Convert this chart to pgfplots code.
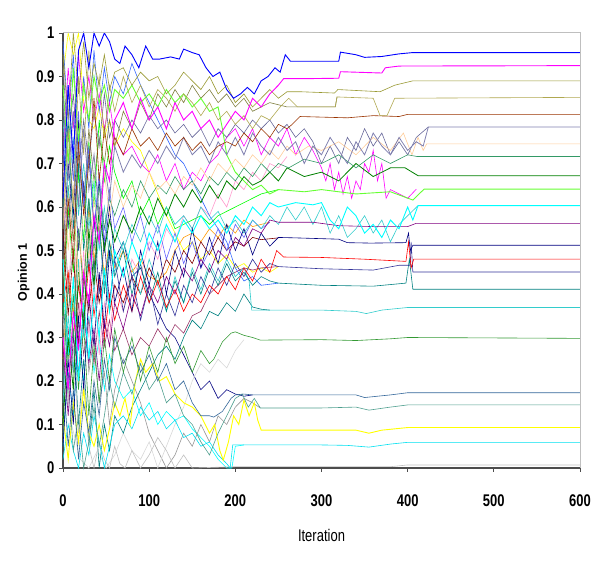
\documentclass[border=0pt]{standalone}
\usepackage{pgfplots}
\pgfplotsset{compat=1.18}
\usepackage{fontspec}
\setmainfont{Liberation Sans}
\definecolor{cA}{HTML}{0000FF}
\definecolor{cB}{HTML}{FF00FF}
\definecolor{cC}{HTML}{999933}
\definecolor{cD}{HTML}{B0A850}
\definecolor{cE}{HTML}{993300}
\definecolor{cF}{HTML}{8080B0}
\definecolor{cG}{HTML}{FFCC99}
\definecolor{cH}{HTML}{339966}
\definecolor{cI}{HTML}{008000}
\definecolor{cJ}{HTML}{66FF33}
\definecolor{cK}{HTML}{00FFFF}
\definecolor{cL}{HTML}{800080}
\definecolor{cM}{HTML}{000080}
\definecolor{cN}{HTML}{FF0000}
\definecolor{cO}{HTML}{333399}
\definecolor{cP}{HTML}{008080}
\definecolor{cQ}{HTML}{33CCCC}
\definecolor{cR}{HTML}{339933}
\definecolor{cS}{HTML}{336699}
\definecolor{cT}{HTML}{4F9F8F}
\definecolor{cU}{HTML}{FFFF00}
\definecolor{cV}{HTML}{00E0F0}
\definecolor{cW}{HTML}{C0C0C0}
\definecolor{eB}{HTML}{00FF00}
\definecolor{eC}{HTML}{FF9900}
\definecolor{eF}{HTML}{993366}
\definecolor{eG}{HTML}{FF99CC}
\definecolor{eI}{HTML}{969696}
\definecolor{eJ}{HTML}{D8D8D8}
\definecolor{eK}{HTML}{800000}
\definecolor{eL}{HTML}{666699}
\definecolor{eN}{HTML}{3366FF}
\definecolor{eO}{HTML}{808040}
\definecolor{eP}{HTML}{6666FF}
\begin{document}
\begin{tikzpicture}
\begin{axis}[
  scale only axis, width=517pt, height=435pt,
  xmin=0, xmax=600, ymin=0, ymax=1,
  clip=false,
  xtick={0,100,200,300,400,500,600},
  ytick={0,0.1,0.2,0.3,0.4,0.5,0.6,0.7,0.8,0.9,1},
  axis x line*=bottom, axis y line*=left,
  axis line style={draw=black!70, line width=1.2pt},
  tick style={draw=black!70, line width=0.8pt},
  tick align=outside, major tick length=4pt,
  /pgf/number format/assume math mode=true,
  ticklabel style={font=\fontsize{13}{15}\selectfont\bfseries},
  xticklabel={\scalebox{1}[1.3]{\pgfmathprintnumber{\tick}}},
  yticklabel={\scalebox{1}[1.3]{\pgfmathprintnumber{\tick}}},
  xticklabel style={yshift=-19pt},
  yticklabel style={xshift=-1pt},
  xlabel={\fontsize{13}{15}\selectfont\scalebox{1}[1.3]{Iteration}},
  ylabel={\fontsize{12.5}{14}\selectfont\bfseries Opinion 1},
  xlabel style={yshift=-16pt},
  ylabel style={at={(ticklabel cs:0.45)}, yshift=0pt},
  every axis plot/.append style={line width=0.6pt, mark=none},
]
% extra series (merge early)
\addplot[cU] coordinates {(0,.9)(6,1)(12,.95)(18,1)(24,.84)(30,.80)(36,.78)(42,.83)(48,.76)(54,.80)(60,.74)(70,.78)(80,.75)(90,.73)(100,.68)(110,.63)(120,.58)(130,.54)(140,.50)(150,.52)(160,.48)(170,.50)(180,.47)(190,.49)(200,.46)(210,.47)(220,.45)(230,.46)(240,.45)(250,.463)};
\addplot[eB] coordinates {(0,.35)(6,.60)(12,.45)(18,.68)(24,.52)(30,.75)(36,.60)(42,.80)(48,.66)(54,.74)(60,.68)(70,.62)(80,.66)(90,.58)(100,.62)(110,.56)(120,.60)(130,.55)(140,.56)(150,.57)(160,.58)(170,.56)(180,.58)(190,.59)(200,.60)(210,.61)(220,.62)(230,.63)(240,.635)(250,.64)};
\addplot[eC] coordinates {(0,.25)(6,.45)(12,.35)(18,.55)(24,.42)(30,.60)(36,.48)(42,.56)(48,.44)(54,.52)(60,.46)(70,.50)(80,.45)(90,.48)(100,.44)(110,.43)(120,.45)(130,.50)(140,.53)(150,.54)(160,.52)(170,.55)(180,.53)(190,.56)(200,.54)(210,.57)(220,.555)(230,.56)(240,.565)};
\addplot[cM] coordinates {(0,.50)(6,.70)(12,.58)(18,.80)(24,.62)(30,.72)(36,.55)(42,.66)(48,.50)(54,.60)(60,.48)(70,.52)(80,.44)(90,.46)(100,.40)(110,.36)(120,.32)(130,.30)(140,.26)(150,.22)(160,.18)(170,.20)(180,.16)(190,.18)(200,.17)(210,.165)(220,.168)};
\addplot[cK] coordinates {(0,.05)(6,.22)(12,.12)(18,.30)(24,.20)(30,.35)(36,.22)(42,.30)(48,.18)(54,.26)(60,.20)(70,.16)(80,.18)(90,.12)(100,.15)(110,.10)(120,.13)(130,.11)(140,.12)(150,.09)(160,.07)(170,.05)(180,.02)(190,0)(196,0)(200,.05)(210,.053)};
\addplot[eF] coordinates {(0,.18)(6,.32)(12,.22)(18,.38)(24,.26)(30,.34)(36,.24)(42,.36)(48,.28)(54,.34)(60,.27)(70,.32)(80,.26)(90,.30)(100,.28)(110,.32)(120,.29)(130,.33)(140,.31)(150,.35)(160,.36)(170,.40)(180,.42)(190,.44)(200,.45)(210,.46)(220,.455)(230,.46)(250,.463)};
\addplot[eG] coordinates {(0,.66)(6,.40)(12,.58)(18,.34)(24,.50)(30,.30)(36,.44)(42,.26)(48,.38)(54,.30)(60,.42)(70,.36)(80,.48)(90,.44)(100,.52)(110,.48)(120,.55)(130,.52)(140,.58)(150,.55)(160,.60)(170,.58)(180,.63)(190,.60)(200,.66)(210,.64)(220,.68)(230,.66)(240,.70)(250,.69)(260,.716)};
\addplot[eI] coordinates {(0,.60)(6,.42)(12,.50)(18,.30)(24,.40)(30,.22)(36,.30)(42,.15)(48,.22)(54,.10)(60,.18)(70,.25)(80,.20)(90,.15)(100,.08)(110,.04)(120,0)(130,.03)(140,.08)(150,.05)(160,.10)(170,.06)(180,.12)(190,.10)(200,.14)(210,.16)(220,.15)(229,.138)};
\addplot[eJ] coordinates {(0,.30)(10,.10)(20,.02)(30,0)(40,.04)(50,0)(60,.03)(70,.08)(80,.04)(90,.02)(100,.06)(110,0)(120,.05)(130,.10)(140,.14)(150,.20)(160,.24)(170,.22)(180,.25)(190,.23)(200,.27)(210,.295)};
\addplot[eK] coordinates {(0,.55)(6,.35)(12,.50)(18,.28)(24,.44)(30,.36)(36,.48)(42,.38)(48,.45)(54,.36)(60,.42)(70,.38)(80,.44)(90,.40)(100,.46)(110,.42)(120,.48)(130,.45)(140,.50)(150,.47)(160,.52)(170,.49)(180,.53)(190,.50)(200,.52)(210,.51)(220,.53)(230,.525)(250,.529)};
\addplot[eN] coordinates {(0,.98)(6,.80)(12,.95)(18,.72)(24,.90)(30,.78)(36,.96)(42,.82)(48,.92)(54,.84)(60,.90)(70,.86)(80,.93)(90,.88)(100,.84)(110,.80)(120,.76)(130,.72)(140,.70)(150,.66)(160,.62)(170,.58)(180,.55)(190,.52)(200,.46)(210,.43)(220,.44)(230,.42)(250,.425)};
\addplot[eO] coordinates {(0,.45)(6,.65)(12,.52)(18,.72)(24,.60)(30,.78)(36,.66)(42,.76)(48,.70)(54,.80)(60,.74)(70,.82)(80,.78)(90,.84)(100,.80)(110,.86)(120,.83)(130,.87)(140,.84)(150,.88)(160,.85)(170,.87)(180,.84)(190,.86)(200,.83)(210,.85)(220,.82)(240,.84)(260,.83)(300,.83)(316,.83)(318,.853)};
\addplot[eP] coordinates {(0,.70)(6,.88)(12,.66)(18,.82)(24,.60)(30,.74)(36,.55)(42,.68)(48,.52)(54,.64)(60,.55)(70,.60)(80,.52)(90,.58)(100,.50)(110,.56)(120,.48)(130,.54)(140,.47)(150,.52)(160,.46)(170,.50)(180,.55)(190,.50)(200,.56)(210,.53)(220,.57)(230,.55)(240,.565)};
\addplot[cP] coordinates {(0,.40)(6,.20)(12,.32)(18,.10)(24,.25)(30,.05)(36,.18)(42,0)(48,.10)(54,.04)(60,.12)(70,.08)(80,.14)(90,.18)(100,.22)(110,.26)(120,.28)(130,.25)(140,.30)(150,.34)(160,.32)(170,.36)(180,.35)(190,.38)(200,.36)(210,.40)(220,.37)(230,.365)(240,.363)};
% extra series (wobbly until ~410)
\addplot[cB] coordinates {(0,.72)(6,.92)(12,.78)(18,.95)(24,.82)(30,.90)(36,.80)(42,.86)(48,.78)(54,.84)(60,.76)(70,.72)(80,.74)(90,.70)(100,.68)(110,.72)(120,.66)(130,.70)(140,.64)(150,.68)(160,.66)(170,.70)(180,.72)(190,.76)(200,.78)(210,.74)(220,.78)(230,.72)(240,.76)(250,.74)(260,.78)(270,.72)(280,.76)(290,.73)(300,.69)(305,.66)(310,.70)(315,.64)(320,.68)(325,.63)(330,.67)(335,.62)(340,.66)(345,.64)(350,.70)(355,.68)(360,.73)(365,.66)(370,.70)(375,.62)(380,.64)(390,.63)(400,.62)(410,.641)};
\addplot[eL] coordinates {(0,.92)(6,.75)(12,.86)(18,.68)(24,.80)(30,.70)(36,.82)(42,.74)(48,.86)(54,.76)(60,.80)(70,.76)(80,.80)(90,.77)(100,.81)(110,.78)(120,.80)(130,.77)(140,.79)(150,.76)(160,.78)(170,.74)(180,.78)(190,.76)(200,.79)(210,.77)(220,.80)(230,.78)(240,.80)(250,.77)(260,.79)(270,.76)(280,.78)(290,.75)(300,.70)(310,.74)(320,.70)(330,.76)(340,.73)(350,.78)(360,.74)(370,.77)(380,.72)(390,.75)(400,.72)(410,.76)(424,.784)};
\addplot[cQ] coordinates {(0,.80)(6,.62)(12,.76)(18,.58)(24,.70)(30,.55)(36,.66)(42,.50)(48,.60)(54,.48)(60,.55)(70,.50)(80,.56)(90,.52)(100,.58)(110,.54)(120,.60)(130,.56)(140,.58)(150,.55)(160,.60)(170,.57)(180,.59)(190,.55)(200,.57)(210,.54)(220,.57)(230,.55)(240,.58)(250,.56)(260,.60)(270,.57)(280,.60)(290,.56)(300,.60)(310,.54)(320,.58)(330,.53)(340,.55)(350,.58)(360,.54)(370,.57)(380,.52)(390,.56)(400,.58)(412,.603)};
% final bands
\addplot[cW] coordinates {(0,.35)(6,.15)(12,.28)(18,.08)(24,.20)(30,.05)(36,0)(42,.06)(48,.02)(54,0)(60,.05)(66,.01)(72,0)(80,.04)(90,0)(100,.03)(110,.07)(120,.04)(130,0)(140,.03)(150,0)(200,.003)(300,.003)(380,.003)(400,.007)(600,.007)};
\addplot[cV] coordinates {(0,.02)(6,.10)(12,.04)(18,0)(24,.08)(30,.03)(36,.12)(42,.06)(48,0)(54,.05)(60,.10)(70,.12)(80,.09)(90,.14)(100,.11)(110,.13)(120,.09)(130,.11)(140,.07)(150,.08)(160,.05)(170,.06)(180,.03)(190,.01)(194,0)(197,.053)(300,.053)(330,.052)(355,.048)(380,.055)(400,.059)(600,.059)};
\addplot[cU, line width=0.9pt] coordinates {(0,.12)(6,.02)(12,.15)(18,.06)(24,.18)(30,.08)(36,.05)(42,.10)(48,.04)(54,.09)(60,.15)(66,.12)(72,.16)(78,.10)(84,.20)(90,.25)(96,.22)(104,.24)(112,.20)(120,.21)(130,.17)(140,.15)(150,.14)(160,.12)(170,.08)(176,.10)(182,.04)(186,.018)(192,.06)(198,.12)(204,.10)(210,.156)(216,.12)(222,.15)(226,.11)(230,.087)(340,.087)(355,.08)(370,.087)(400,.093)(600,.093)};
\addplot[cT] coordinates {(0,.08)(6,.20)(12,.04)(18,.12)(24,0)(30,.06)(36,.14)(42,.05)(48,.12)(54,.20)(60,.14)(70,.22)(80,.17)(90,.24)(100,.18)(110,.21)(120,.15)(130,.17)(140,.12)(150,.10)(160,.06)(170,.03)(180,.08)(190,.12)(200,.16)(208,.17)(215,.14)(222,.16)(229,.138)(300,.138)(340,.14)(355,.133)(380,.14)(400,.145)(600,.145)};
\addplot[cS] coordinates {(0,.22)(6,.05)(12,.18)(18,.02)(24,.15)(30,.08)(36,.20)(42,.12)(48,.25)(54,.18)(60,.30)(70,.24)(80,.28)(90,.22)(100,.26)(110,.20)(120,.24)(130,.18)(140,.20)(150,.15)(160,.12)(170,.12)(175,.117)(185,.13)(195,.16)(200,.168)(210,.17)(220,.168)(300,.168)(340,.168)(350,.162)(380,.168)(400,.173)(600,.173)};
\addplot[cR] coordinates {(0,.45)(6,.25)(12,.40)(18,.18)(24,.33)(30,.12)(36,.28)(42,.15)(48,.30)(54,.20)(60,.32)(70,.22)(80,.30)(90,.20)(100,.28)(110,.22)(120,.30)(130,.24)(140,.28)(150,.22)(160,.27)(170,.24)(175,.25)(185,.29)(195,.31)(200,.313)(210,.305)(220,.30)(229,.294)(300,.295)(340,.293)(380,.297)(400,.30)(600,.298)};
\addplot[cQ] coordinates {(0,.15)(6,.35)(12,.22)(18,.48)(24,.30)(30,.52)(36,.40)(42,.55)(48,.42)(54,.50)(60,.45)(70,.52)(80,.46)(90,.40)(100,.48)(110,.42)(120,.36)(130,.44)(140,.38)(150,.46)(160,.41)(170,.47)(180,.43)(190,.48)(200,.44)(210,.46)(216,.43)(219,.363)(300,.363)(340,.36)(352,.355)(370,.363)(400,.369)(600,.369)};
\addplot[cP] coordinates {(0,.60)(6,.80)(12,.55)(18,.70)(24,.50)(30,.62)(36,.45)(42,.58)(48,.40)(54,.52)(60,.44)(70,.50)(80,.40)(90,.47)(100,.38)(110,.45)(120,.36)(130,.43)(140,.38)(150,.45)(160,.40)(170,.46)(180,.42)(190,.47)(200,.43)(210,.45)(220,.42)(230,.44)(240,.43)(250,.425)(300,.42)(360,.418)(398,.425)(402,.48)(406,.411)(600,.411)};
\addplot[cO] coordinates {(0,.75)(6,.55)(12,.72)(18,.50)(24,.66)(30,.45)(36,.58)(42,.40)(48,.52)(54,.38)(60,.48)(70,.36)(80,.44)(90,.34)(100,.42)(110,.33)(120,.40)(130,.35)(140,.42)(150,.38)(160,.44)(170,.40)(180,.46)(190,.42)(200,.47)(210,.44)(220,.48)(230,.45)(240,.47)(250,.463)(300,.458)(360,.455)(390,.466)(403,.466)(404,.52)(406,.4506)(600,.4506)};
\addplot[cN] coordinates {(0,.38)(6,.45)(12,.30)(18,.42)(24,.33)(30,.47)(36,.35)(42,.44)(48,.30)(54,.40)(60,.34)(70,.42)(80,.36)(90,.44)(100,.38)(110,.43)(120,.37)(130,.41)(140,.36)(150,.40)(160,.38)(170,.42)(180,.40)(190,.44)(200,.41)(210,.46)(220,.43)(230,.48)(240,.45)(248,.50)(256,.485)(300,.484)(350,.48)(398,.475)(401,.52)(404,.46)(407,.48)(600,.48)};
\addplot[cM] coordinates {(0,.05)(6,.25)(12,.10)(18,.35)(24,.18)(30,.40)(36,.28)(42,.45)(48,.32)(54,.50)(60,.38)(70,.46)(80,.36)(90,.50)(100,.42)(110,.52)(120,.40)(130,.50)(140,.44)(150,.55)(160,.46)(170,.53)(180,.47)(190,.56)(200,.50)(210,.55)(220,.49)(230,.54)(240,.51)(250,.53)(270,.529)(320,.526)(330,.518)(357,.517)(398,.518)(401,.54)(403,.50)(406,.512)(600,.512)};
\addplot[cL] coordinates {(0,.28)(6,.12)(12,.30)(18,.22)(24,.36)(30,.24)(36,.32)(42,.20)(48,.34)(54,.28)(60,.38)(70,.32)(80,.40)(90,.35)(100,.42)(110,.38)(120,.44)(130,.40)(140,.46)(150,.43)(160,.48)(170,.45)(180,.50)(190,.48)(200,.53)(210,.51)(220,.55)(230,.54)(240,.57)(250,.565)(290,.565)(320,.557)(360,.555)(400,.555)(410,.5625)(600,.5625)};
\addplot[cK, line width=0.9pt] coordinates {(0,.48)(6,.26)(12,.44)(18,.20)(24,.38)(30,.25)(36,.40)(42,.30)(48,.46)(54,.36)(60,.50)(70,.44)(80,.52)(90,.47)(100,.54)(110,.50)(120,.56)(130,.52)(140,.57)(150,.54)(160,.58)(170,.55)(180,.57)(190,.54)(200,.58)(210,.56)(220,.60)(230,.58)(240,.61)(250,.60)(270,.61)(290,.605)(300,.61)(310,.57)(320,.55)(330,.60)(340,.58)(350,.54)(360,.56)(370,.53)(380,.57)(390,.55)(400,.60)(406,.57)(412,.603)(600,.603)};
\addplot[cJ, line width=0.9pt] coordinates {(0,.88)(6,.70)(12,.92)(18,.75)(24,.88)(30,.80)(36,.90)(42,.84)(48,.88)(54,.82)(60,.87)(70,.85)(80,.88)(90,.84)(100,.86)(110,.83)(120,.87)(130,.84)(140,.86)(150,.83)(160,.85)(170,.82)(180,.83)(185,.78)(190,.72)(200,.68)(210,.66)(220,.64)(230,.65)(240,.63)(250,.64)(280,.635)(300,.64)(340,.63)(380,.635)(406,.616)(419,.641)(600,.641)};
\addplot[cI, line width=0.8pt] coordinates {(0,.10)(6,.30)(12,.18)(18,.45)(24,.32)(30,.55)(36,.42)(42,.60)(48,.50)(54,.57)(60,.52)(70,.58)(80,.54)(90,.60)(100,.56)(110,.62)(120,.58)(130,.63)(140,.60)(150,.64)(160,.61)(170,.65)(180,.62)(190,.66)(200,.64)(210,.67)(220,.65)(230,.66)(240,.68)(250,.66)(260,.69)(280,.67)(300,.68)(320,.66)(340,.70)(360,.67)(380,.69)(397,.69)(412,.672)(600,.672)};
\addplot[cH] coordinates {(0,.20)(6,.42)(12,.30)(18,.55)(24,.40)(30,.62)(36,.50)(42,.65)(48,.55)(54,.62)(60,.58)(70,.64)(80,.60)(90,.66)(100,.62)(110,.65)(120,.63)(130,.67)(140,.64)(150,.66)(160,.63)(170,.67)(180,.65)(190,.68)(200,.66)(210,.69)(220,.67)(230,.70)(240,.68)(250,.70)(262,.69)(280,.71)(300,.70)(320,.72)(340,.69)(360,.72)(380,.70)(400,.72)(411,.716)(600,.716)};
\addplot[cG] coordinates {(0,.70)(6,.50)(12,.65)(18,.42)(24,.60)(30,.48)(36,.62)(42,.55)(48,.68)(54,.58)(60,.66)(70,.60)(80,.65)(90,.62)(100,.68)(110,.64)(120,.66)(130,.63)(140,.67)(150,.65)(160,.69)(170,.66)(180,.70)(190,.68)(200,.71)(210,.69)(220,.72)(230,.70)(240,.73)(250,.71)(260,.74)(270,.72)(285,.74)(300,.73)(320,.75)(340,.72)(360,.76)(380,.73)(395,.77)(405,.72)(412,.76)(418,.73)(422,.745)(600,.745)};
\addplot[cF, line width=0.8pt] coordinates {(0,.85)(6,.66)(12,.82)(18,.60)(24,.78)(30,.64)(36,.72)(42,.58)(48,.70)(54,.62)(60,.74)(70,.68)(80,.72)(90,.69)(100,.73)(110,.70)(120,.74)(130,.71)(140,.76)(150,.72)(160,.74)(170,.70)(180,.75)(190,.72)(200,.76)(210,.72)(220,.77)(230,.74)(240,.72)(250,.76)(260,.73)(270,.75)(280,.70)(290,.74)(300,.72)(310,.76)(320,.73)(330,.70)(340,.75)(350,.72)(360,.77)(370,.74)(380,.72)(390,.76)(400,.73)(410,.75)(418,.74)(424,.784)(600,.784)};
\addplot[cE] coordinates {(0,.40)(6,.62)(12,.48)(18,.75)(24,.58)(30,.70)(36,.85)(42,.66)(48,.78)(54,.70)(60,.76)(70,.72)(80,.78)(90,.74)(100,.76)(110,.73)(120,.77)(130,.74)(140,.76)(150,.73)(160,.75)(170,.72)(180,.74)(190,.75)(200,.74)(210,.77)(220,.75)(230,.78)(240,.76)(250,.79)(260,.78)(266,.79)(275,.808)(330,.805)(360,.81)(390,.808)(400,.813)(600,.813)};
\addplot[cD] coordinates {(0,.55)(6,.78)(12,.60)(18,.90)(24,.72)(30,.96)(36,.80)(42,.90)(48,.76)(54,.88)(60,.82)(70,.90)(80,.84)(90,.88)(100,.83)(110,.87)(120,.85)(130,.82)(140,.86)(150,.84)(160,.81)(170,.84)(180,.80)(190,.82)(200,.79)(210,.81)(220,.78)(230,.81)(240,.80)(252,.83)(262,.85)(272,.83)(300,.83)(316,.83)(318,.853)(360,.85)(368,.81)(376,.81)(385,.85)(600,.852)};
\addplot[cC] coordinates {(0,.95)(6,.80)(12,1)(18,.86)(24,.98)(30,.85)(36,.93)(42,.88)(48,.95)(54,.87)(60,.91)(70,.92)(80,.88)(90,.91)(100,.89)(110,.90)(120,.86)(130,.88)(140,.91)(150,.89)(160,.87)(170,.90)(180,.86)(190,.88)(200,.84)(210,.86)(220,.83)(230,.85)(240,.87)(250,.85)(260,.865)(275,.865)(315,.862)(319,.87)(368,.865)(385,.88)(406,.89)(600,.89)};
\addplot[cB, line width=0.9pt] coordinates {(0,.30)(6,.18)(12,.36)(18,.27)(24,.45)(30,.38)(36,.58)(42,.52)(48,.70)(54,.66)(60,.80)(70,.84)(80,.78)(90,.85)(100,.80)(110,.83)(120,.78)(130,.84)(140,.80)(150,.82)(160,.78)(170,.80)(180,.76)(190,.79)(200,.82)(210,.80)(220,.85)(230,.83)(240,.86)(250,.88)(256,.895)(280,.895)(320,.896)(322,.911)(370,.908)(374,.92)(390,.924)(600,.925)};
\addplot[cA, line width=0.9pt] coordinates {(0,.62)(6,.88)(12,.71)(18,.96)(24,1)(30,.92)(36,1)(42,.97)(48,1)(54,.98)(60,.94)(66,.93)(72,.97)(80,.95)(88,.92)(96,.97)(104,.94)(112,.94)(125,.945)(135,.94)(140,.963)(150,.955)(158,.95)(166,.92)(174,.90)(182,.91)(190,.87)(198,.85)(206,.86)(214,.875)(222,.86)(230,.89)(238,.90)(246,.92)(252,.91)(258,.95)(264,.935)(320,.935)(322,.956)(340,.95)(350,.944)(370,.946)(390,.952)(406,.955)(600,.955)};
\draw[black!25, line width=1pt] (rel axis cs:0,1) -- (rel axis cs:1,1) -- (rel axis cs:1,0);
\end{axis}
\path (current axis.south west) ++(-63pt,-99pt) rectangle ++(600pt,567pt);
\end{tikzpicture}
\end{document}
